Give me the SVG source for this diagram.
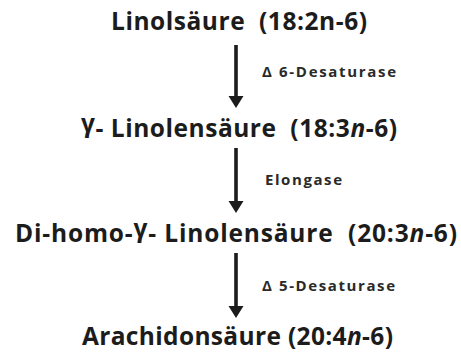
<svg xmlns="http://www.w3.org/2000/svg" width="461" height="356" viewBox="0 0 461 356">
<style>
.t{font-family:"Open Sans","Liberation Sans",sans-serif;font-weight:bold;font-size:24.5px;fill:#1c1c1c;white-space:pre}
.l{font-family:"Open Sans","Liberation Sans",sans-serif;font-weight:bold;font-size:15px;fill:#2a2a2a;white-space:pre}
.c{stroke:#1c1c1c;stroke-width:3.6;fill:none}
.h{fill:#1c1c1c}
</style>
<rect width="461" height="356" fill="#fff"/>
<g id="n1"><text class="t" x="111" y="30" textLength="256" lengthAdjust="spacing">Linolsäure  (18:2n-6)</text></g>
<g id="n2"><text class="t" x="81" y="137" textLength="316" lengthAdjust="spacing"><tspan dy="-5">γ</tspan><tspan dy="5">- Linolensäure  (18:3</tspan><tspan font-style="italic">n</tspan>-6)</text></g>
<g id="n3"><text class="t" x="15" y="242" textLength="442" lengthAdjust="spacing">Di-homo-<tspan dy="-5">γ</tspan><tspan dy="5">- Linolensäure  (20:3</tspan><tspan font-style="italic">n</tspan>-6)</text></g>
<g id="n4"><text class="t" x="82" y="345" textLength="311" lengthAdjust="spacing">Arachidonsäure (20:4<tspan font-style="italic">n</tspan>-6)</text></g>
<g id="connectors">
<line class="c" x1="236" y1="45" x2="236" y2="98"/>
<polygon class="h" points="228.5,96 243.5,96 236,108"/>
<line class="c" x1="236" y1="148" x2="236" y2="203"/>
<polygon class="h" points="228.5,201 243.5,201 236,213"/>
<line class="c" x1="236" y1="253" x2="236" y2="308"/>
<polygon class="h" points="228.5,306 243.5,306 236,318"/>
<text class="l" x="262" y="77" textLength="134" lengthAdjust="spacing">Δ 6-Desaturase</text>
<text class="l" x="265" y="185" textLength="77" lengthAdjust="spacing">Elongase</text>
<text class="l" x="262" y="291" textLength="133" lengthAdjust="spacing">Δ 5-Desaturase</text>
</g>
</svg>
